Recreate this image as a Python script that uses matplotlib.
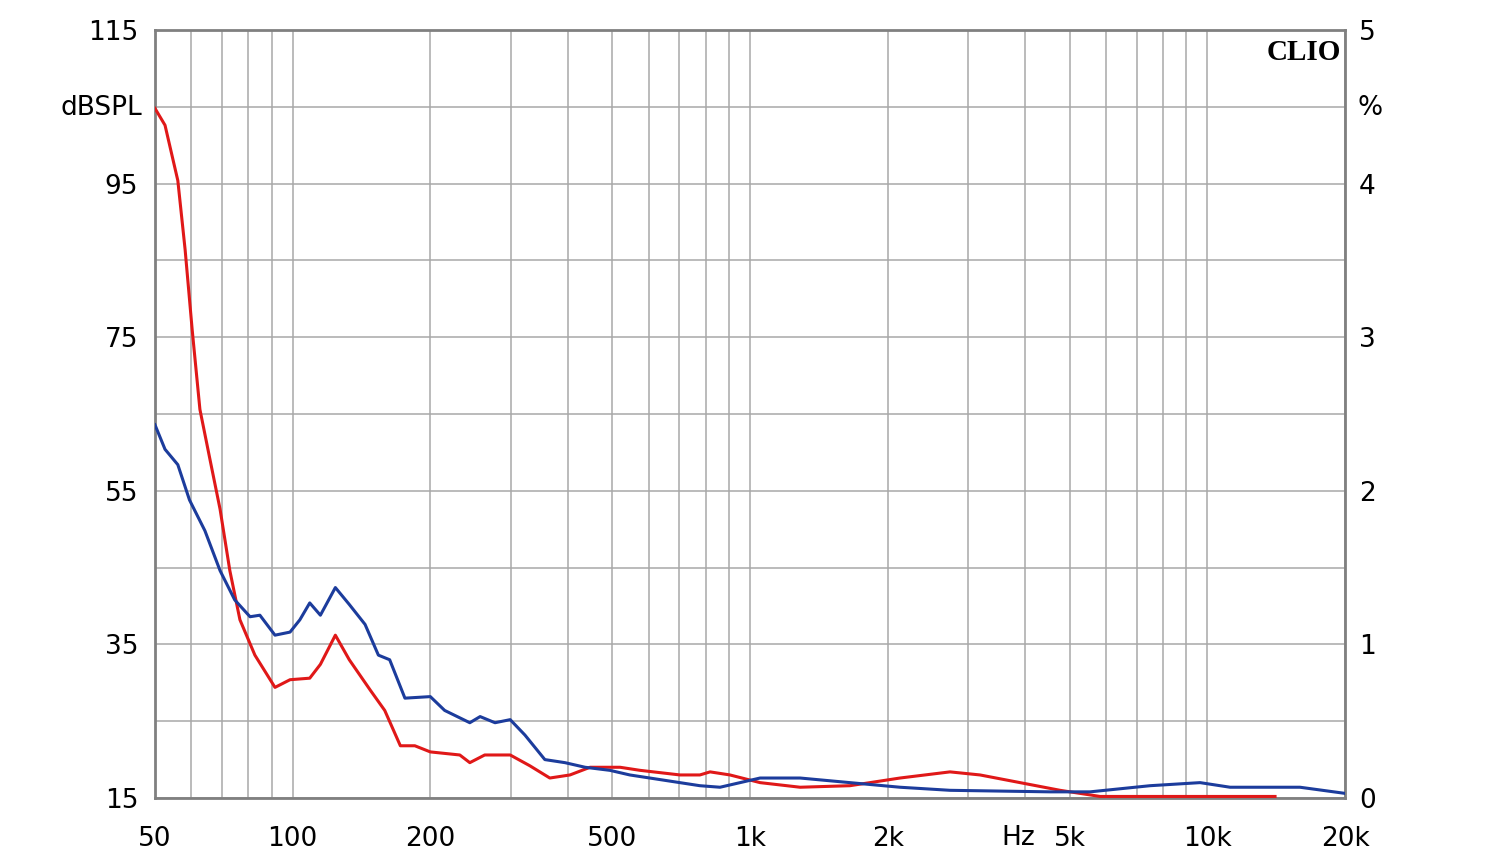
import numpy as np
import matplotlib
matplotlib.use("Agg")
import matplotlib.pyplot as plt
from matplotlib.ticker import FixedLocator, NullFormatter

# distortion curves, frequency in Hz, value in %
red_f = [50, 52.6, 56.1, 58.2, 60.3, 62.7, 66, 69.4, 72.9, 76.7, 82.7, 91.5, 98.7, 109, 115, 124,
         133, 148, 159, 172, 185, 200, 232, 244, 263, 299, 330, 365, 404, 447, 520, 575, 703,
         777, 818, 904, 1052, 1287, 1654, 2128, 2737, 3184, 3895, 4764, 5826, 9640, 14060]
red_v = [4.49, 4.38, 4.02, 3.57, 3.05, 2.53, 2.20, 1.88, 1.48, 1.16, 0.93, 0.72, 0.77, 0.78, 0.87, 1.06,
         0.90, 0.70, 0.57, 0.34, 0.34, 0.30, 0.28, 0.23, 0.28, 0.28, 0.21, 0.13, 0.15, 0.20, 0.20, 0.18, 0.15,
         0.15, 0.17, 0.15, 0.10, 0.07, 0.08, 0.13, 0.17, 0.15, 0.10, 0.05, 0.01, 0.01, 0.01]

blue_f = [50, 52.6, 56.1, 59.5, 64.3, 69.4, 74.7, 80.7, 84.8, 91.5, 98.7, 103.7, 109, 115, 124,
          133, 144, 154, 163, 176, 200, 215, 244, 257, 277, 299, 322, 356, 394, 436, 494, 546,
          635, 777, 860, 1052, 1287, 1654, 2128, 2737, 4530, 5540, 7494, 9640, 11212, 15940, 20000]
blue_v = [2.43, 2.27, 2.17, 1.94, 1.74, 1.48, 1.29, 1.18, 1.19, 1.06, 1.08, 1.16, 1.27, 1.19, 1.37,
          1.26, 1.13, 0.93, 0.90, 0.65, 0.66, 0.57, 0.49, 0.53, 0.49, 0.51, 0.41, 0.25, 0.23, 0.20, 0.18, 0.15,
          0.12, 0.08, 0.07, 0.13, 0.13, 0.10, 0.07, 0.05, 0.04, 0.04, 0.08, 0.10, 0.07, 0.07, 0.03]

db_ticks = [15, 35, 55, 75, 95, 115]
pct_ticks = [0, 1, 2, 3, 4, 5]
x_ticks = [50, 100, 200, 500, 1000, 2000, 5000, 10000, 20000]
x_labels = ["50", "100", "200", "500", "1k", "2k", "5k", "10k", "20k"]

plt.rcParams['font.family'] = ['DejaVu Sans']
fig = plt.figure(figsize=(15, 8.64), dpi=100)
ax = fig.add_axes([0.1033, 0.0764, 0.7934, 0.8889])
ax.set_xscale('log')
ax.set_xlim(50, 20000)
ax.set_ylim(15, 115)

minor = [m * 10 ** d for d in range(1, 5) for m in range(1, 10)]
minor = [v for v in minor if 50 <= v <= 20000]
ax.xaxis.set_major_locator(FixedLocator(x_ticks))
ax.xaxis.set_minor_locator(FixedLocator(minor))
ax.xaxis.set_minor_formatter(NullFormatter())
ax.set_xticklabels(x_labels)
ax.set_yticks(np.arange(15, 116, 10), minor=True)
ax.set_yticks(db_ticks)
ax.grid(True, which='both', color='#a8a8a8', lw=1.1)
ax.tick_params(which='both', length=0, labelsize=19, pad=12)
ax.tick_params(axis='x', pad=20)
for s in ax.spines.values():
    s.set_color('#808080')
    s.set_linewidth(2)

ax2 = ax.twinx()
ax2.set_ylim(0, 5)
ax2.set_yticks(pct_ticks)
ax2.tick_params(length=0, labelsize=19, pad=10)
for s in ax2.spines.values():
    s.set_visible(False)

ax2.plot(red_f, red_v, color='#e01818', lw=2.2)
ax2.plot(blue_f, blue_v, color='#1c3c9c', lw=2.2)

fig.text(0.095, 0.875, "dBSPL", ha='right', va='center', fontsize=19)
fig.text(0.905, 0.875, "%", ha='left', va='center', fontsize=19)
fig.text(0.679, 0.030, "Hz", ha='center', va='center', fontsize=19)
ax.text(0.997, 0.988, "CLIO", transform=ax.transAxes, ha='right', va='top',
        fontsize=21, fontweight='bold', family='Liberation Serif')

fig.savefig("out.png", dpi=100, facecolor='white')
